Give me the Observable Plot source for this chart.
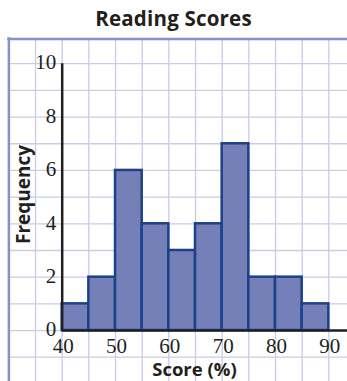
<!DOCTYPE html>
<html>
<head>
<meta charset="utf-8">
<script src="https://cdn.jsdelivr.net/npm/d3@7"></script>
<script src="https://cdn.jsdelivr.net/npm/@observablehq/plot@0.6"></script>
<style>
  html, body { margin: 0; padding: 0; background: #fff; }
  #title { height: 36px; width: 347px; text-align: center; font-family: "Open Sans", sans-serif; font-weight: 700; font-size: 20.5px; color: #231f20; box-sizing: border-box; padding-top: 3px; line-height: 30px; letter-spacing: 0.2px; }
  #chart svg { display: block; }
</style>
</head>
<body>
<div id="title">Reading Scores</div>
<div id="chart"></div>
<script>
const binStarts = [40, 45, 50, 55, 60, 65, 70, 75, 80, 85];
const binWidth = 5;
const frequencies = [1, 2, 6, 4, 3, 4, 7, 2, 2, 1];
const yTicks = [0, 2, 4, 6, 8, 10];
const xTicks = [40, 50, 60, 70, 80, 90];
const xGrid = [35, 40, 45, 50, 55, 60, 65, 70, 75, 80, 85, 90, 95];
const yGrid = [-1, 0, 1, 2, 3, 4, 5, 6, 7, 8, 9, 10];

const bins = binStarts.map((s, i) => ({lo: s, hi: s + binWidth, count: frequencies[i]}));

const X0 = 28.43, X1 = 93.5, Y0 = -1.91, Y1 = 11.02;
const BORDER_X = 30, BORDER_Y = 10.93;
const grid = "#c9cbe7", border = "#8391cc";
const serif = "'Liberation Serif', 'DejaVu Serif', serif";
const sans = "'Open Sans', sans-serif";

const chart = Plot.plot({
  width: 347,
  height: 345,
  marginTop: 0, marginBottom: 0, marginLeft: 0, marginRight: 0,
  x: {domain: [X0, X1], axis: null},
  y: {domain: [Y0, Y1], axis: null},
  marks: [
    Plot.ruleX(xGrid, {y1: Y0, y2: BORDER_Y, stroke: grid, strokeWidth: 1.3}),
    Plot.ruleY(yGrid, {x1: BORDER_X, x2: X1, stroke: grid, strokeWidth: 1.3}),
    Plot.ruleX([BORDER_X], {y1: Y0, y2: BORDER_Y + 0.04, stroke: border, strokeWidth: 2.5}),
    Plot.ruleY([BORDER_Y], {x1: BORDER_X - 0.2, x2: X1, stroke: border, strokeWidth: 2.5}),
    Plot.rectY(bins, {x1: "lo", x2: "hi", y1: 0, y2: "count", fill: "#7680b8", stroke: "#1d4189", strokeWidth: 2.5, inset: 0}),
    Plot.ruleX([40], {y1: 0, y2: 10, stroke: "#231f20", strokeWidth: 2.5}),
    Plot.ruleY([0], {x1: 40, x2: X1, stroke: "#231f20", strokeWidth: 2.5}),
    Plot.text(yTicks, {x: 40, y: d => d, text: d => String(d), textAnchor: "end", dx: -6, dy: -1, fontSize: 21, fontFamily: serif, fill: "#231f20"}),
    Plot.text(xTicks, {x: d => d, y: 0, text: d => String(d), textAnchor: "middle", dx: 1, dy: 16, fontSize: 21, fontFamily: serif, fill: "#231f20"}),
    Plot.text(["Frequency"], {x: X0 + 23.5 / 5.333, y: 5.1, text: d => d, rotate: -90, fontSize: 19, fontWeight: "bold", fontFamily: sans, fill: "#231f20"}),
    Plot.text(["Score (%)"], {x: 64.8, y: -1.5, text: d => d, fontSize: 18.5, fontWeight: "bold", fontFamily: sans, fill: "#231f20"})
  ]
});
document.getElementById("chart").appendChild(chart);
</script>
</body>
</html>
